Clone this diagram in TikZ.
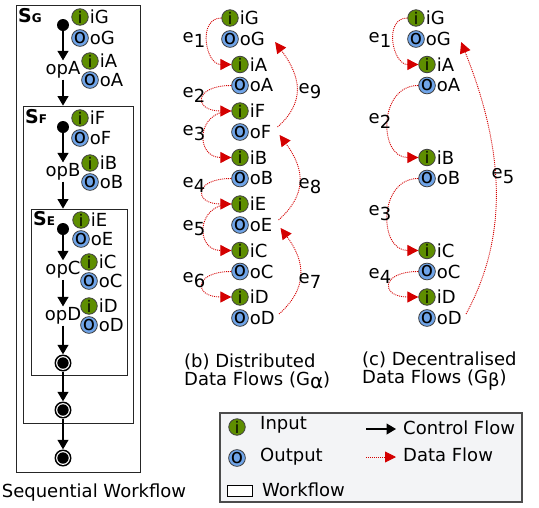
\documentclass[tikz,border=0pt]{standalone}
\usepackage{fontspec}
\setmainfont{DejaVu Sans}
\usetikzlibrary{arrows.meta,calc}
\definecolor{ingreen}{HTML}{5E8E00}
\definecolor{outblue}{HTML}{6FA4E8}
\definecolor{flowred}{HTML}{D40000}
\definecolor{legendbg}{HTML}{F3F4F6}
% edge label with lowered index
\newcommand\elabel[1]{e\raisebox{-5pt}{#1}}
% workflow scope label S_X
\newcommand\wflabel[1]{{\fontsize{19}{19}\selectfont\bfseries S}{\fontsize{12}{12}\selectfont\bfseries #1}}

\begin{document}
\begin{tikzpicture}[x=1pt,y=-1pt, font=\fontsize{18}{18}\selectfont,
  port/.style={circle, draw=black!75, line width=0.8pt, minimum size=16.5pt, inner sep=0pt},
  inp/.style={port, fill=ingreen, font=\fontsize{16}{16}\selectfont},
  outp/.style={port, fill=outblue, font=\fontsize{20}{20}\selectfont},
  lab/.style={anchor=west, inner sep=1pt},
  opname/.style={inner sep=1pt},
  startdot/.style={circle, fill=black, minimum size=12pt, inner sep=0pt},
  enddot/.style={circle, fill=black, minimum size=17pt, inner sep=0pt,
    path picture={\fill[white] (path picture bounding box.center) circle (6.9pt);
                  \fill[black] (path picture bounding box.center) circle (5.7pt);}},
  wfbox/.style={draw=black!85, line width=0.9pt, inner sep=0pt},
  cf/.style={draw=black, line width=1.1pt, -{Triangle[length=9.5pt,width=11pt]}},
  df/.style={draw=flowred, line width=0.9pt, dash pattern=on 1pt off 1pt,
    -{Triangle[length=11pt,width=11pt]}},
  elab/.style={inner sep=0pt},
]
\useasboundingbox (0,0) rectangle (539,507);

% ---------------- sequential workflow ----------------
\node[wfbox, minimum width=124pt, minimum height=467pt] (SG) at (78,238.5) {};
\node[wfbox, minimum width=110pt, minimum height=317pt] (SF) at (78,264.5) {};
\node[wfbox, minimum width=96pt, minimum height=166pt] (SE) at (79,292) {};
\node[anchor=base west, inner sep=0pt] (tSG) at (18,22) {\wflabel{G}};
\node[anchor=base west, inner sep=0pt] (tSF) at (25,123) {\wflabel{F}};
\node[anchor=base west, inner sep=0pt] (tSE) at (33,225) {\wflabel{E}};

\node[startdot] (sG) at (63,25) {};
\node[opname] (opA) at (63,70) {opA};
\node[startdot] (sF) at (63,127) {};
\node[opname] (opB) at (63,172) {opB};
\node[startdot] (sE) at (63,229) {};
\node[opname] (opC) at (63,270) {opC};
\node[opname] (opD) at (63,316) {opD};
\node[enddot] (end1) at (63,363) {};
\node[enddot] (end2) at (63,410) {};
\node[enddot] (end3) at (63,458) {};

\foreach \n/\x/\y/\k in {G/80/17/i, A/90/61/i, F/80/118/i, B/90/163/i, E/81/220/i, C/89/262/i, D/89/306/i}{
  \node[inp] (a\k\n) at (\x,\y) {i};
  \node[lab] (la\k\n) at (a\k\n.east) {i\n};
}
\foreach \n/\x/\y/\k in {G/80/38/o, A/90/80/o, F/80/138/o, B/90/182/o, E/81/239/o, C/89/281/o, D/89/325/o}{
  \node[outp] (a\k\n) at (\x,\y) {o};
  \node[lab] (la\k\n) at (a\k\n.east) {o\n};
}

\draw[cf] (sG) -- (opA);
\draw[cf] (opA) -- (opA |- SF.north);
\draw[cf] (sF) -- (opB);
\draw[cf] (opB) -- (opB |- SE.north);
\draw[cf] (sE) -- (opC);
\draw[cf] (opC) -- (opD);
\draw[cf] (opD) -- (end1);
\draw[cf] (end1) -- (end2);
\draw[cf] (end2) -- (end3);

\node (seqt) at (94,493) {Sequential Workflow};

% ---------------- distributed data flows ----------------
\foreach \n/\x/\y in {G/230/18, A/240/64.5, F/240/111, B/240/157.5, E/240/204, C/240/250.5, D/240/297}{
  \node[inp] (bi\n) at (\x,\y) {i};
  \node[lab] (lbi\n) at (bi\n.east) {i\n};
  \node[outp] (bo\n) at (\x,\y+21) {o};
  \node[lab] (lbo\n) at (bo\n.east) {o\n};
}
\draw[df] (biG.west) .. controls +(-24,0) and +(-26,0) .. (biA.west);
\draw[df] (boA.west) .. controls +(-38,0) and +(-38,0) .. (biF.west);
\draw[df] (biF.west) .. controls +(-36,0) and +(-36,0) .. (biB.west);
\draw[df] (boB.west) .. controls +(-38,0) and +(-38,0) .. (biE.west);
\draw[df] (biE.west) .. controls +(-36,0) and +(-36,0) .. (biC.west);
\draw[df] (boC.west) .. controls +(-38,0) and +(-38,0) .. (biD.west);
\draw[df] ($(lboF.east)+(5,-5)$) .. controls +(28,-25) and +(26,35) .. ($(lboG.east)+(9,3)$);
\draw[df] ($(lboE.east)+(5,-5)$) .. controls +(28,-25) and +(26,35) .. ($(lboF.east)+(7,3)$);
\draw[df] ($(lboD.east)+(3,-4)$) .. controls +(28,-25) and +(26,35) .. ($(lboE.east)+(7,3)$);

\node[elab] (be1) at (194,40) {\elabel{1}};
\node[elab] (be2) at (194,95) {\elabel{2}};
\node[elab] (be3) at (194,133) {\elabel{3}};
\node[elab] (be4) at (194,185) {\elabel{4}};
\node[elab] (be5) at (194,228) {\elabel{5}};
\node[elab] (be6) at (194,280) {\elabel{6}};
\node[elab] (be9) at (310,91) {\elabel{9}};
\node[elab] (be8) at (310,186) {\elabel{8}};
\node[elab] (be7) at (310,281) {\elabel{7}};

\node[anchor=west, align=left, inner sep=0pt] (tb) at (184,371)
  {(b) Distributed\\Data Flows (G\raisebox{-3pt}{\fontsize{20}{20}\selectfont α})};

% ---------------- decentralised data flows ----------------
\foreach \n/\x/\y in {G/416/18, A/427/64.5, B/427/157.5, C/427/250.5, D/427/297}{
  \node[inp] (ci\n) at (\x,\y) {i};
  \node[lab] (lci\n) at (ci\n.east) {i\n};
  \node[outp] (co\n) at (\x,\y+21) {o};
  \node[lab] (lco\n) at (co\n.east) {o\n};
}
\draw[df] (ciG.west) .. controls +(-24,0) and +(-26,0) .. (ciA.west);
\draw[df] (coA.west) .. controls +(-40,0) and +(-40,0) .. (ciB.west);
\draw[df] (coB.west) .. controls +(-40,0) and +(-40,0) .. (ciC.west);
\draw[df] (coC.west) .. controls +(-38,0) and +(-38,0) .. (ciD.west);
\draw[df] ($(lcoD.east)+(3,-4)$) .. controls +(38,-70) and +(48,120) .. ($(lcoG.east)+(9,3)$);

\node[elab] (ce1) at (380,40) {\elabel{1}};
\node[elab] (ce2) at (380,121) {\elabel{2}};
\node[elab] (ce3) at (380,213) {\elabel{3}};
\node[elab] (ce4) at (380,276) {\elabel{4}};
\node[elab] (ce5) at (503,176) {\elabel{5}};

\node[anchor=west, align=left, inner sep=0pt] (tc) at (362,371)
  {(c) Decentralised\\Data Flows (G\raisebox{-3pt}{\fontsize{18}{18}\selectfont β})};

% ---------------- legend ----------------
\node[draw=black!70, fill=legendbg, line width=1.2pt, minimum width=302pt,
      minimum height=89pt, inner sep=0pt] (legend) at (371,457.5) {};
\node[inp] (lgi) at (237,427) {i};
\node[lab] (lgit) at (259,425) {Input};
\node[outp] (lgo) at (237,458) {o};
\node[lab] (lgot) at (259,457) {Output};
\node[draw=black, line width=0.8pt, fill=white, minimum width=25pt, minimum height=11pt,
      inner sep=0pt] (lgw) at (239.5,491) {};
\node[lab] (lgwt) at (261,490) {Workflow};
\coordinate (cfa) at (366,429);
\coordinate (cfb) at (396,429);
\draw[cf] (cfa) -- (cfb);
\node[lab] (lgct) at (402,428) {Control Flow};
\coordinate (dfa) at (366,457);
\coordinate (dfb) at (396,457);
\draw[df] (dfa) -- (dfb);
\node[lab] (lgdt) at (402,455) {Data Flow};
\end{tikzpicture}
\end{document}
